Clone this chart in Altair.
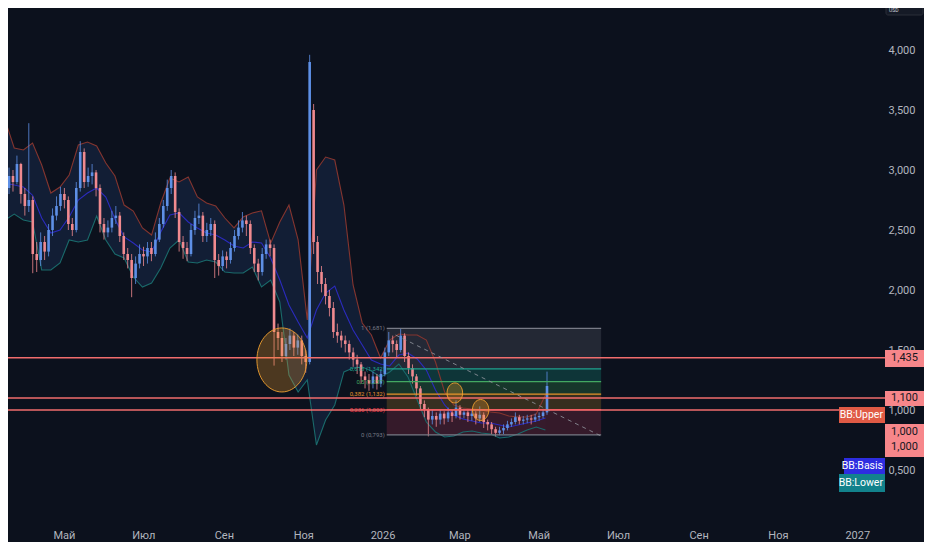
import altair as alt
import pandas as pd

BG = "#0c111d"
FONT = "Roboto"
UP = "#5e90e6"
DOWN = "#f08a8f"

# ---------------- candles (3-day candles) ----------------
c_open = [2.80, 2.85, 2.95, 2.90, 3.05, 2.80, 2.70, 2.75, 2.30, 2.25,
          2.40, 2.32, 2.50, 2.62, 2.70, 2.80, 2.75, 2.55, 2.50, 2.85,
          3.15, 2.90, 2.95, 2.98, 2.85, 2.55, 2.48, 2.52, 2.60, 2.62,
          2.45, 2.30, 2.25, 2.10, 2.22, 2.30, 2.28, 2.35, 2.30, 2.42,
          2.55, 2.70, 2.85, 2.95, 2.65, 2.40, 2.35, 2.30, 2.50, 2.60,
          2.62, 2.45, 2.50, 2.55, 2.25, 2.20, 2.28, 2.25, 2.35, 2.45,
          2.52, 2.58, 2.55, 2.35, 2.22, 2.15, 2.30, 2.38, 2.35, 1.65,
          1.60, 1.45, 1.55, 1.62, 1.52, 1.58, 1.45, 1.40, 3.50, 2.40,
          2.15, 2.05, 1.95, 1.85, 1.65, 1.62, 1.58, 1.55, 1.48, 1.42,
          1.38, 1.28, 1.25, 1.22, 1.28, 1.22, 1.30, 1.48, 1.58, 1.55,
          1.50, 1.62, 1.45, 1.35, 1.28, 1.18, 1.05, 1.00, 0.92, 0.95,
          0.92, 0.97, 0.93, 0.98, 0.95, 1.02, 0.96, 0.98, 0.95, 0.97,
          0.93, 0.96, 0.90, 0.88, 0.84, 0.81, 0.83, 0.85, 0.88, 0.90,
          0.94, 0.91, 0.92, 0.93, 0.92, 0.94, 0.95, 0.98]
c_close = [2.85, 2.95, 2.90, 3.05, 2.80, 2.70, 2.75, 2.30, 2.25, 2.40,
           2.32, 2.50, 2.62, 2.70, 2.80, 2.75, 2.55, 2.50, 2.85, 3.15,
           2.90, 2.95, 2.98, 2.85, 2.55, 2.48, 2.52, 2.60, 2.62, 2.45,
           2.30, 2.25, 2.10, 2.22, 2.30, 2.28, 2.35, 2.30, 2.42, 2.55,
           2.70, 2.85, 2.95, 2.65, 2.40, 2.35, 2.30, 2.50, 2.60, 2.62,
           2.45, 2.50, 2.55, 2.25, 2.20, 2.28, 2.25, 2.35, 2.45, 2.52,
           2.58, 2.55, 2.35, 2.22, 2.15, 2.30, 2.38, 2.35, 1.65, 1.60,
           1.45, 1.55, 1.62, 1.52, 1.58, 1.45, 1.40, 3.90, 2.40, 2.15,
           2.05, 1.95, 1.85, 1.65, 1.62, 1.58, 1.55, 1.48, 1.42, 1.38,
           1.28, 1.25, 1.22, 1.28, 1.22, 1.30, 1.48, 1.58, 1.55, 1.50,
           1.62, 1.45, 1.35, 1.28, 1.18, 1.05, 1.00, 0.92, 0.95, 0.92,
           0.97, 0.93, 0.98, 0.95, 1.02, 0.96, 0.98, 0.95, 0.97, 0.93,
           0.96, 0.90, 0.88, 0.84, 0.81, 0.83, 0.85, 0.88, 0.90, 0.94,
           0.91, 0.92, 0.93, 0.92, 0.94, 0.95, 0.98, 1.20]
c_high = [2.97, 3.02, 3.00, 3.12, 3.06, 2.85, 3.39, 2.78, 2.40, 2.48,
          2.45, 2.55, 2.68, 2.78, 2.86, 2.85, 2.78, 2.60, 2.90, 3.24,
          3.18, 3.02, 3.05, 3.00, 2.88, 2.60, 2.58, 2.66, 2.70, 2.65,
          2.48, 2.35, 2.30, 2.28, 2.38, 2.36, 2.40, 2.40, 2.48, 2.60,
          2.75, 2.92, 3.00, 2.98, 2.68, 2.45, 2.40, 2.55, 2.66, 2.72,
          2.65, 2.56, 2.60, 2.58, 2.30, 2.33, 2.32, 2.40, 2.50, 2.58,
          2.65, 2.62, 2.58, 2.38, 2.26, 2.35, 2.42, 2.42, 2.38, 1.72,
          1.65, 1.60, 1.68, 1.65, 1.63, 1.62, 1.50, 3.96, 3.55, 2.45,
          2.20, 2.10, 2.00, 1.90, 1.72, 1.66, 1.62, 1.58, 1.52, 1.46,
          1.40, 1.32, 1.30, 1.32, 1.30, 1.34, 1.52, 1.65, 1.62, 1.58,
          1.68, 1.64, 1.48, 1.38, 1.30, 1.20, 1.08, 1.02, 1.00, 0.98,
          1.00, 0.99, 1.02, 1.00, 1.08, 1.04, 1.01, 1.00, 1.00, 0.99,
          1.03, 0.98, 0.92, 0.90, 0.86, 0.86, 0.88, 0.91, 0.93, 0.98,
          0.96, 0.95, 0.96, 0.96, 0.97, 0.98, 1.01, 1.32]
c_low = [2.75, 2.80, 2.82, 2.88, 2.72, 2.62, 2.65, 2.14, 2.15, 2.20,
         2.25, 2.28, 2.45, 2.58, 2.66, 2.68, 2.50, 2.45, 2.48, 2.82,
         2.85, 2.86, 2.88, 2.78, 2.48, 2.42, 2.44, 2.48, 2.55, 2.40,
         2.25, 2.18, 1.94, 2.05, 2.18, 2.20, 2.22, 2.24, 2.28, 2.40,
         2.52, 2.66, 2.80, 2.60, 2.32, 2.26, 2.24, 2.28, 2.46, 2.55,
         2.40, 2.40, 2.45, 2.10, 2.12, 2.16, 2.18, 2.22, 2.32, 2.42,
         2.48, 2.45, 2.30, 2.15, 2.08, 2.12, 2.26, 2.28, 1.37, 1.50,
         1.40, 1.42, 1.50, 1.45, 1.46, 1.38, 1.31, 1.38, 2.30, 2.05,
         1.98, 1.88, 1.78, 1.60, 1.56, 1.52, 1.48, 1.42, 1.36, 1.30,
         1.22, 1.18, 1.16, 1.18, 1.17, 1.19, 1.28, 1.45, 1.48, 1.44,
         1.48, 1.40, 1.30, 1.22, 1.12, 1.00, 0.94, 0.78, 0.88, 0.86,
         0.88, 0.88, 0.90, 0.90, 0.93, 0.92, 0.93, 0.90, 0.91, 0.88,
         0.90, 0.85, 0.83, 0.80, 0.78, 0.79, 0.80, 0.83, 0.86, 0.88,
         0.88, 0.88, 0.89, 0.88, 0.90, 0.91, 0.93, 0.96]
candle_start = "2025-03-16 18:00"

# ---------------- Bollinger bands (weekly readings) ----------------
bb_upper = [3.417, 3.183, 3.167, 3.225, 3.042, 2.808, 2.858, 2.958, 3.208, 3.233,
            3.200, 3.058, 2.950, 2.708, 2.658, 2.517, 2.458, 2.725, 2.933, 2.900,
            2.942, 2.775, 2.725, 2.700, 2.600, 2.517, 2.608, 2.642, 2.660, 2.390,
            2.567, 2.708, 2.417, 1.750, 3.000, 3.108, 3.083, 2.708, 2.042, 1.725,
            1.625, 1.433, 1.583, 1.633, 1.625, 1.625, 1.583, 1.400, 1.150, 1.042,
            1.017, 1.008, 1.000, 0.983, 0.975, 0.950, 0.942, 0.942, 0.967, 1.125]
bb_basis = [2.890, 2.875, 2.858, 2.790, 2.600, 2.475, 2.500, 2.608, 2.750, 2.808,
            2.850, 2.775, 2.592, 2.442, 2.392, 2.333, 2.317, 2.483, 2.625, 2.642,
            2.567, 2.517, 2.475, 2.458, 2.417, 2.367, 2.350, 2.400, 2.392, 2.267,
            2.083, 1.875, 1.733, 1.600, 1.833, 1.975, 2.033, 1.833, 1.667, 1.542,
            1.417, 1.383, 1.367, 1.458, 1.475, 1.425, 1.333, 1.167, 1.042, 0.958,
            0.925, 0.908, 0.892, 0.892, 0.875, 0.858, 0.875, 0.892, 0.908, 0.933]
bb_lower = [2.583, 2.633, 2.583, 2.567, 2.167, 2.167, 2.225, 2.417, 2.400, 2.417,
            2.617, 2.417, 2.300, 2.267, 2.108, 2.025, 2.058, 2.183, 2.350, 2.417,
            2.233, 2.225, 2.250, 2.233, 2.150, 2.142, 2.142, 2.192, 2.025, 2.083,
            1.900, 1.292, 1.150, 1.250, 0.708, 0.917, 1.042, 1.317, 1.350, 1.358,
            1.325, 1.275, 1.317, 1.383, 1.275, 1.083, 0.900, 0.817, 0.775, 0.783,
            0.817, 0.825, 0.808, 0.800, 0.767, 0.775, 0.800, 0.833, 0.858, 0.833]

# ---------------- drawings ----------------
h_levels = [1.435, 1.100, 1.000]
fib_labels = ["0 (0,793)", "0,236 (1,003)", "0,382 (1,132)", "0,5 (1,237)", "0,618 (1,342)", "1 (1,681)"]
fib_prices = [0.793, 1.003, 1.132, 1.237, 1.342, 1.681]
fib_line_colors = ["#787b86", "#f23645", "#e8942a", "#43a862", "#1fa28e", "#787b86"]
fib_zone_colors = ["#3a1b2b", "#3b3120", "#193a2d", "#0f383b", "#262a36"]
fib_start = "2026-01-04T05:00:00Z"
fib_end = "2026-06-18T02:00:00Z"
trend_dates = ["2026-01-11T00:00:00Z", "2026-06-18T02:00:00Z"]
trend_prices = [1.625, 0.783]
circle_dates = ["2025-10-15T14:00:00Z", "2026-02-25T14:00:00Z", "2026-03-17T10:00:00Z"]
circle_prices = [1.417, 1.142, 1.000]
circle_sizes = [4096, 400, 441]

# right-hand price labels
line_label_text = ["1,435", "1,100", "1,000", "1,000"]
line_label_price = [1.435, 1.100, 0.817, 0.692]
bb_label_text = ["BB:Upper", "BB:Basis", "BB:Lower"]
bb_label_price = [0.958, 0.533, 0.392]

# ---------------- frames ----------------
candles = pd.DataFrame({"open": c_open, "high": c_high, "low": c_low, "close": c_close})
candles["date"] = pd.date_range(candle_start, periods=len(c_close), freq="73h").strftime("%Y-%m-%dT%H:%M:%SZ")
bb = pd.DataFrame({"upper": bb_upper, "basis": bb_basis, "lower": bb_lower})
bb["date"] = pd.date_range(candle_start, periods=len(bb_upper), freq="169h").strftime("%Y-%m-%dT%H:%M:%SZ")
fib_lines = pd.DataFrame({"p": fib_prices, "label": fib_labels, "c": fib_line_colors,
                          "start": fib_start, "end": fib_end})
fib_zones = pd.DataFrame({"lo": fib_prices[:-1], "hi": fib_prices[1:], "c": fib_zone_colors,
                          "start": fib_start, "end": fib_end})
trend = pd.DataFrame({"date": trend_dates, "p": trend_prices})
circles = pd.DataFrame({"date": circle_dates, "p": circle_prices, "s": circle_sizes})
hl = pd.DataFrame({"p": h_levels})

# ---------------- scales / axes ----------------
xscale = alt.Scale(type="utc", domain=[
    alt.DateTime(year=2025, month=3, date=22, hours=20, minutes=24, utc=True),
    alt.DateTime(year=2027, month=1, date=18, hours=12, utc=True)])
tick_dates = [alt.DateTime(year=y, month=m, date=1, utc=True) for (y, m) in
              [(2025, 5), (2025, 7), (2025, 9), (2025, 11), (2026, 1), (2026, 3),
               (2026, 5), (2026, 7), (2026, 9), (2026, 11), (2027, 1)]]
xaxis = alt.Axis(values=tick_dates, title=None, grid=False, domain=False, ticks=False,
                 labelColor="#b2b5be", labelFont=FONT, labelFontSize=11, labelPadding=7,
                 labelOverlap=False, labelFlush=False,
                 labelExpr="utcmonth(datum.value) == 0 ? utcFormat(datum.value, '%Y') : "
                           "['Янв','Фев','Мар','Апр','Май','Июн','Июл','Авг','Сен','Окт','Ноя','Дек'][utcmonth(datum.value)]")
yscale = alt.Scale(domain=[0.0667, 4.35], nice=False, zero=False)
yaxis = alt.Axis(orient="right", values=[0.5, 1.0, 1.5, 2.0, 2.5, 3.0, 3.5, 4.0], title=None,
                 grid=False, domain=False, ticks=False, labelAlign="right", labelPadding=30,
                 labelBaseline="middle", labelColor="#b2b5be", labelFont=FONT, labelFontSize=11,
                 labelOverlap=False, labelFlush=False,
                 labelExpr="replace(format(datum.value, '.3f'), '.', ',')")


def X(f):
    return alt.X(f, type="temporal", scale=xscale, axis=xaxis)


def Y(f):
    return alt.Y(f, type="quantitative", scale=yscale, axis=yaxis)


band = alt.Chart(bb).mark_area(color="#14213a", opacity=0.85, clip=True).encode(
    x=X("date"), y=Y("lower"), y2=alt.Y2("upper"))

zones = alt.Chart(fib_zones).mark_rect(opacity=0.92, clip=True).encode(
    x=X("start"), x2=alt.X2("end"), y=Y("lo"), y2=alt.Y2("hi"),
    color=alt.Color("c:N", scale=None))

up_line = alt.Chart(bb).mark_line(color="#84352f", strokeWidth=1.1, clip=True).encode(x=X("date"), y=Y("upper"))
mid_line = alt.Chart(bb).mark_line(color="#2b2bbd", strokeWidth=1.1, clip=True).encode(x=X("date"), y=Y("basis"))
low_line = alt.Chart(bb).mark_line(color="#1a6a6b", strokeWidth=1.1, clip=True).encode(x=X("date"), y=Y("lower"))

cond = "datum.close >= datum.open"
wicks = alt.Chart(candles).mark_rule(strokeWidth=1, opacity=0.8, clip=True).encode(
    x=X("date"), y=Y("low"), y2=alt.Y2("high"),
    color=alt.condition(cond, alt.value(UP), alt.value(DOWN)))
bodies = alt.Chart(candles).mark_bar(width=2.6, clip=True).encode(
    x=X("date"), y=Y("open"), y2=alt.Y2("close"),
    color=alt.condition(cond, alt.value(UP), alt.value(DOWN)))

fib_rules = alt.Chart(fib_lines).mark_rule(strokeWidth=1.2, clip=True).encode(
    x=X("start"), x2=alt.X2("end"), y=Y("p"), color=alt.Color("c:N", scale=None))
fib_text = alt.Chart(fib_lines).mark_text(align="right", baseline="middle", dx=-2,
                                           fontSize=6, font=FONT).encode(
    x=X("start"), y=Y("p"), text="label:N", color=alt.Color("c:N", scale=None))

hrules = alt.Chart(hl).mark_rule(color="#f26d6d", strokeWidth=1.4).encode(y=Y("p"))

ellipse = "M-0.78,0 A0.78,1 0 1,0 0.78,0 A0.78,1 0 1,0 -0.78,0 Z"
circ = alt.Chart(circles).mark_point(shape=ellipse, filled=True, fill="#f59d2a", fillOpacity=0.28,
                                     stroke="#f0a030", strokeWidth=1, strokeOpacity=0.9,
                                     opacity=1, clip=True).encode(
    x=X("date"), y=Y("p"), size=alt.Size("s:Q", scale=None))

trend_line = alt.Chart(trend).mark_line(color="#9598a1", strokeDash=[4, 4], strokeWidth=1,
                                        opacity=0.8, clip=True).encode(x=X("date"), y=Y("p"))

# right side label boxes
pbox = pd.DataFrame({"top": [1.500, 1.158, 0.883], "bot": [1.358, 1.033, 0.608]})
price_boxes = alt.Chart(pbox).mark_rect(color="#f7868a").encode(
    x=alt.value(877), x2=alt.value(916), y=Y("top"), y2=alt.Y2("bot"))
price_text = alt.Chart(pd.DataFrame({"t": line_label_text, "p": line_label_price})).mark_text(
    color="#131722", fontSize=11, font=FONT, align="center", baseline="middle").encode(
    x=alt.value(896.5), y=Y("p"), text="t:N")

bb_box_up = alt.Chart(pd.DataFrame({"top": [1.025], "bot": [0.892]})).mark_rect(color="#e05a45").encode(
    x=alt.value(831), x2=alt.value(877), y=Y("top"), y2=alt.Y2("bot"))
bb_box_mid = alt.Chart(pd.DataFrame({"top": [0.600], "bot": [0.467]})).mark_rect(color="#2d2de0").encode(
    x=alt.value(836), x2=alt.value(877), y=Y("top"), y2=alt.Y2("bot"))
bb_box_low = alt.Chart(pd.DataFrame({"top": [0.467], "bot": [0.317]})).mark_rect(color="#12828c").encode(
    x=alt.value(831), x2=alt.value(877), y=Y("top"), y2=alt.Y2("bot"))
bb_text = alt.Chart(pd.DataFrame({"t": bb_label_text, "p": bb_label_price})).mark_text(
    color="#ffffff", fontSize=10.5, font=FONT, align="right", baseline="middle").encode(
    x=alt.value(875), y=Y("p"), text="t:N")

usd_box = alt.Chart(pd.DataFrame({"t": ["USD"]})).mark_rect(
    fill="#151a26", stroke="#2a2e39", strokeWidth=1, cornerRadius=2).encode(
    x=alt.value(878), x2=alt.value(915), y=alt.value(-4), y2=alt.value(7))
usd_text = alt.Chart(pd.DataFrame({"t": ["USD"]})).mark_text(
    color="#d1d4dc", fontSize=5, font=FONT, align="left", baseline="middle").encode(
    x=alt.value(881), y=alt.value(2), text="t:N")

chart = alt.layer(
    band, zones, up_line, mid_line, low_line, wicks, bodies,
    fib_rules, fib_text, hrules, circ, trend_line,
    price_boxes, price_text, bb_box_up, bb_box_mid, bb_box_low, bb_text,
    usd_box, usd_text
).properties(
    width=877, height=514, background=BG,
    padding={"left": 0, "top": 0, "right": 39, "bottom": 20},
    autosize=alt.AutoSizeParams(type="none")
).configure_view(strokeWidth=0)

chart.save("out.html", embed_options={"renderer": "svg", "actions": False})
